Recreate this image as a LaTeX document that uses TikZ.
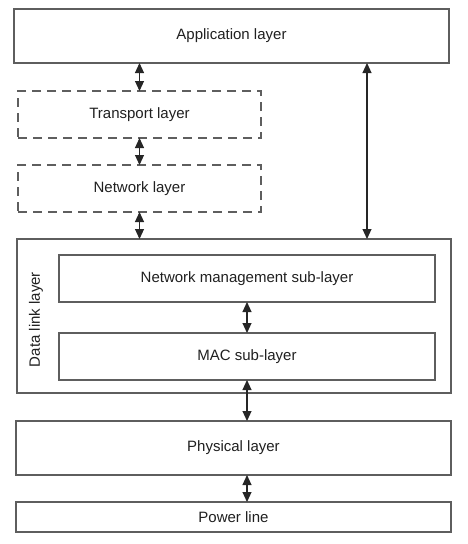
\documentclass[tikz,border=0pt]{standalone}
\usepackage{fontspec}
\setmainfont{Liberation Sans}
\usetikzlibrary{arrows.meta}
\definecolor{boxline}{HTML}{5E5E5E}
\definecolor{txt}{HTML}{202020}
\begin{document}
\begin{tikzpicture}[x=1pt,y=-1pt,
  layerbox/.style={draw=boxline,line width=1.2pt,fill=white,inner sep=0pt,outer sep=0pt,font=\fontsize{15}{18}\selectfont,text=txt},
  dashbox/.style={layerbox,dash pattern=on 9pt off 6pt},
  sidelabel/.style={inner sep=0pt,font=\fontsize{15}{18}\selectfont,text=txt},
  link/.style={{Triangle[width=9pt,length=10pt]}-{Triangle[width=9pt,length=10pt]},line width=1.1pt,draw=black!85}]
\useasboundingbox (0,0) rectangle (468,544);
\node[layerbox,minimum width=435pt,minimum height=54pt] (app) at (231.5,36) {Application layer};
\node[dashbox,minimum width=243pt,minimum height=47pt] (tr) at (139.5,114.5) {Transport layer};
\node[dashbox,minimum width=243pt,minimum height=47pt] (net) at (139.5,188.5) {Network layer};
\node[layerbox,minimum width=434pt,minimum height=154pt] (dl) at (234,316) {};
\node[sidelabel,rotate=90] (dllabel) at (36,319.5) {Data link layer};
\node[layerbox,minimum width=376pt,minimum height=47pt] (nm) at (247,278.5) {Network management sub-layer};
\node[layerbox,minimum width=376pt,minimum height=47pt] (mac) at (247,356.5) {MAC sub-layer};
\node[layerbox,minimum width=435pt,minimum height=54pt] (phy) at (233.5,448) {Physical layer};
\node[layerbox,minimum width=435pt,minimum height=30pt] (pow) at (233.5,517) {Power line};
\coordinate (rtop) at (367,63);
\coordinate (rbot) at (367,239);
\draw[link] (app.south -| tr.north) -- (tr.north);
\draw[link] (tr.south) -- (net.north);
\draw[link] (net.south) -- (net.south |- dl.north);
\draw[link] (rtop) -- (rbot);
\draw[link] (nm.south) -- (mac.north);
\draw[link] (mac.south) -- (mac.south |- phy.north);
\draw[link] (phy.south -| mac.south) -- (pow.north -| mac.south);
\end{tikzpicture}
\end{document}
